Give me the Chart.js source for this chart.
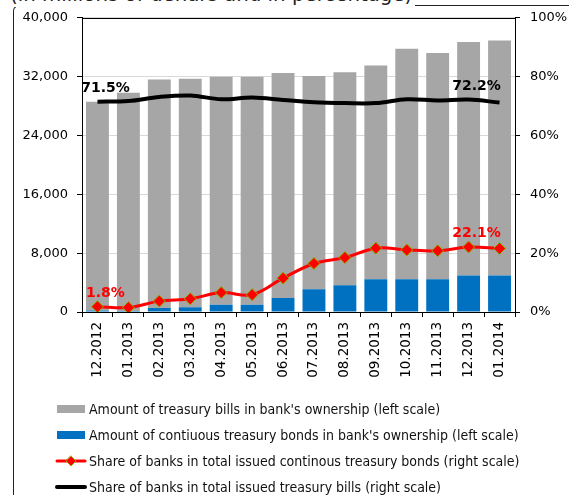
<!DOCTYPE html>
<html>
<head>
<meta charset="utf-8">
<script src="https://cdn.jsdelivr.net/npm/chart.js@4"></script>
<style>
  html, body { margin: 0; padding: 0; background: #fff; }
  body { width: 569px; height: 495px; position: relative; overflow: hidden; font-family: "DejaVu Sans Condensed", "DejaVu Sans", sans-serif; }
  #frame { position: absolute; left: 13px; top: 5px; width: 700px; height: 700px; border-left: 1px solid #222; border-top: 1px solid #222; border-top-left-radius: 6px; }
  #title { position: absolute; left: 10px; top: -19px; font-size: 22px; line-height: 26px; color: #222; white-space: nowrap; background: #fff; padding-right: 3px; }
  #wrap { position: absolute; left: 0; top: 0; width: 569px; height: 395px; }
  #legend { position: absolute; left: 55px; top: 396px; font-size: 14px; color: #111; }
  .item { height: 26px; display: flex; align-items: center; }
  .item canvas { margin-right: 2px; }
</style>
</head>
<body>
<div id="frame"></div>
<div id="title">(in millions of denars and in percentage)</div>
<div id="wrap"><canvas id="chart" width="569" height="395"></canvas></div>
<div id="legend"></div>
<script>
// ======================
// DATOS
// ======================
const months = ['12.2012','01.2013','02.2013','03.2013','04.2013','05.2013','06.2013',
                '07.2013','08.2013','09.2013','10.2013','11.2013','12.2013','01.2014'];
// millones de denares (eje izquierdo)
const bonds = [200, 150, 550, 650, 1000, 1000, 1900, 3100, 3650, 4450, 4450, 4450, 4950, 4950];
const bills = [28400, 29650, 31050, 31050, 31000, 31000, 30600, 29000, 28950, 29050, 31350, 30750, 31750, 31950];
// porcentajes (eje derecho)
const bondShare = [1.8, 1.5, 3.7, 4.5, 6.6, 5.9, 11.5, 16.5, 18.5, 21.7, 21.1, 20.8, 22.1, 21.6];
const billShare = [71.5, 71.7, 73.1, 73.6, 72.3, 72.9, 72.1, 71.3, 71.0, 71.0, 72.3, 71.9, 72.2, 71.2];
const leftTicks = [0, 8000, 16000, 24000, 32000, 40000];
const rightTicks = [0, 20, 40, 60, 80, 100];
const labelled = [0, 12]; // puntos con etiqueta de valor

const FONT = 'DejaVu Sans';

// marco del área de gráfico + etiquetas de valor
const framePlugin = {
  id: 'frame',
  afterDatasetsDraw(chart) {
    const { ctx, chartArea: a } = chart;
    ctx.save();
    ctx.strokeStyle = '#000';
    ctx.lineWidth = 1;
    ctx.strokeRect(Math.round(a.left) + 0.5, Math.round(a.top) + 0.5, Math.round(a.right - a.left), Math.round(a.bottom - a.top));
    ctx.font = 'bold 14px ' + FONT;
    ctx.textAlign = 'center';
    ctx.textBaseline = 'alphabetic';
    chart.data.datasets.forEach((ds, di) => {
      if (ds.type !== 'line') return;
      const meta = chart.getDatasetMeta(di);
      ctx.fillStyle = ds.labelColor;
      labelled.forEach(i => {
        const p = meta.data[i];
        ctx.fillText(ds.data[i].toFixed(1) + '%', p.x + 8, p.y - 10);
      });
    });
    ctx.restore();
  }
};

const chart = new Chart(document.getElementById('chart'), {
  data: {
    labels: months,
    datasets: [
      { type: 'line', label: 'Share of banks in total issued continous treasury bonds (right scale)', data: bondShare, yAxisID: 'y1',
        borderColor: '#ff0000', borderWidth: 3, tension: 0.35, labelColor: '#ff0000',
        pointStyle: 'rectRot', pointRadius: 6, pointBackgroundColor: '#ff0000', pointBorderColor: '#8db000', pointBorderWidth: 1, order: 0 },
      { type: 'line', label: 'Share of banks in total issued treasury bills (right scale)', data: billShare, yAxisID: 'y1',
        borderColor: '#000', borderWidth: 4, tension: 0.35, pointRadius: 0, labelColor: '#000', order: 1 },
      { type: 'bar', label: "Amount of contiuous treasury bonds in bank's ownership (left scale)", data: bonds, yAxisID: 'y',
        backgroundColor: '#0070c0', categoryPercentage: 1, barPercentage: 0.74, order: 2 },
      { type: 'bar', label: "Amount of treasury bills in bank's ownership (left scale)", data: bills, yAxisID: 'y',
        backgroundColor: '#a6a6a6', categoryPercentage: 1, barPercentage: 0.74, order: 3 }
    ]
  },
  options: {
    responsive: false,
    animation: false,
    layout: { padding: { top: 17, left: 0, right: 0, bottom: 0 } },
    plugins: { legend: { display: false }, tooltip: { enabled: false } },
    scales: {
      x: {
        stacked: true,
        offset: true,
        grid: { offset: true, drawOnChartArea: false, tickLength: 5, tickColor: '#000' },
        border: { color: '#000' },
        ticks: { color: '#000', font: { family: FONT, size: 13.5 }, minRotation: 90, maxRotation: 90, padding: 5 },
        afterFit(s) { s.height = 83; }
      },
      y: {
        stacked: true,
        position: 'left',
        min: 0, max: 40000,
        afterBuildTicks(s) { s.ticks = leftTicks.map(v => ({ value: v })); },
        grid: { color: '#d9d9d9', tickLength: 5, tickColor: '#000' },
        border: { color: '#000' },
        ticks: { color: '#000', font: { family: FONT, size: 13 }, padding: 9,
                 callback: v => v.toLocaleString('en-US') },
        afterFit(s) { s.width = 82; }
      },
      y1: {
        position: 'right',
        min: 0, max: 100,
        afterBuildTicks(s) { s.ticks = rightTicks.map(v => ({ value: v })); },
        grid: { drawOnChartArea: false, tickLength: 5, tickColor: '#000' },
        border: { color: '#000' },
        ticks: { color: '#000', font: { family: FONT, size: 13 }, padding: 10, callback: v => v + '%' },
        afterFit(s) { s.width = 54; }
      }
    }
  },
  plugins: [framePlugin]
});

// ======================
// LEYENDA
// ======================
const legendOrder = [3, 2, 0, 1];
const legend = document.getElementById('legend');
legendOrder.forEach(i => {
  const ds = chart.data.datasets[i];
  const row = document.createElement('div');
  row.className = 'item';
  const c = document.createElement('canvas');
  c.width = 32; c.height = 14;
  const g = c.getContext('2d');
  if (ds.type === 'bar') {
    g.fillStyle = ds.backgroundColor;
    g.fillRect(2, 3, 28, 8);
  } else {
    g.strokeStyle = ds.borderColor;
    g.lineWidth = ds.borderWidth;
    g.lineCap = 'round';
    g.beginPath(); g.moveTo(2, 7); g.lineTo(30, 7); g.stroke();
    if (ds.pointRadius) {
      g.fillStyle = ds.pointBackgroundColor;
      g.strokeStyle = ds.pointBorderColor;
      g.lineWidth = 1;
      g.beginPath(); g.moveTo(16, 2); g.lineTo(21, 7); g.lineTo(16, 12); g.lineTo(11, 7); g.closePath();
      g.fill(); g.stroke();
    }
  }
  row.appendChild(c);
  const t = document.createElement('span');
  t.textContent = ds.label;
  row.appendChild(t);
  legend.appendChild(row);
});
</script>
</body>
</html>
